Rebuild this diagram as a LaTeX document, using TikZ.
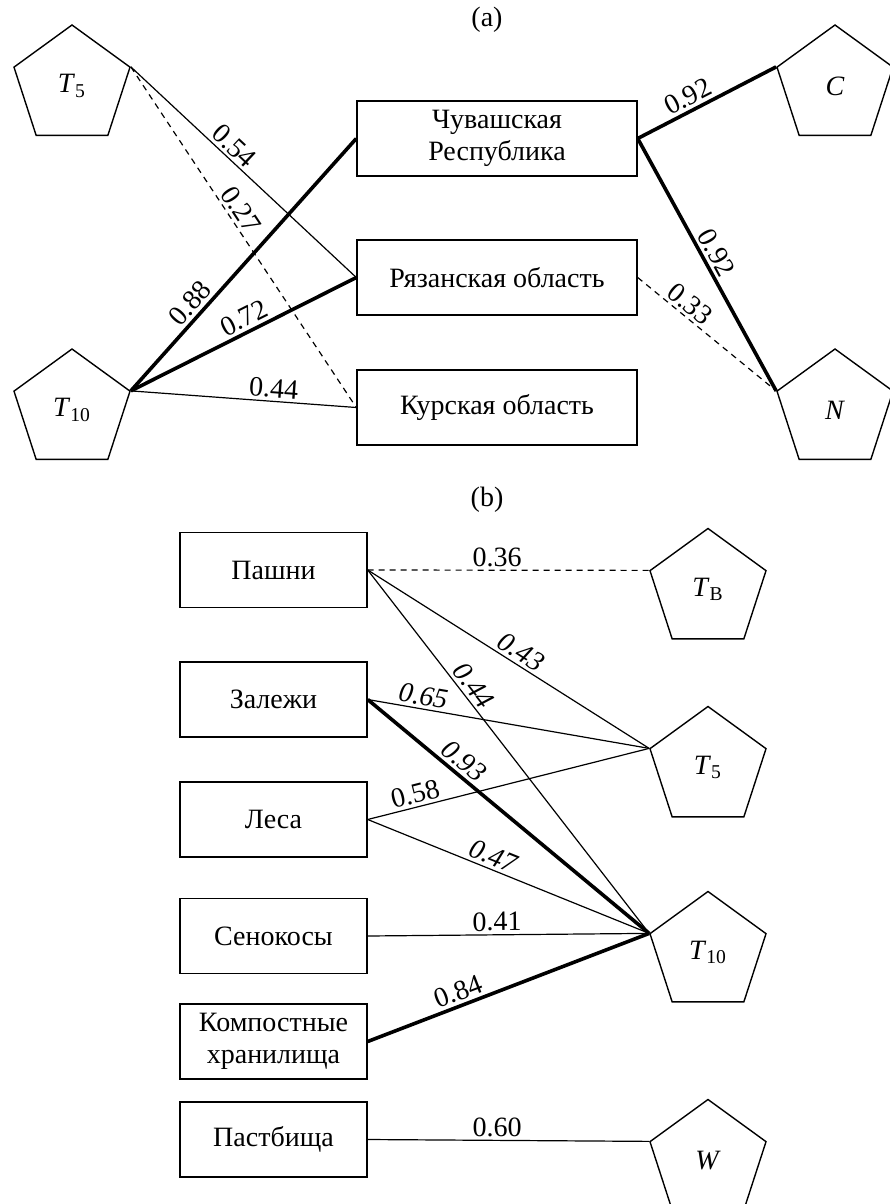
\documentclass[tikz,border=0pt]{standalone}
\usepackage{fontspec}
\setmainfont{Liberation Serif}
\usetikzlibrary{shapes.geometric}

\begin{document}
\begin{tikzpicture}[x=0.5pt, y=-0.5pt,
  every node/.style={font=\fontsize{14}{16}\selectfont},
  region/.style={draw, line width=0.7pt, minimum width=140pt, minimum height=37.5pt, align=center, inner sep=0pt},
  landuse/.style={draw, line width=0.7pt, minimum width=93.5pt, minimum height=37.5pt, align=center, inner sep=0pt},
  factor/.style={draw, line width=0.7pt, regular polygon, regular polygon sides=5, minimum size=61pt, inner sep=0pt},
  weak/.style={line width=0.6pt},
  strong/.style={line width=1.8pt},
  faint/.style={line width=0.6pt, dash pattern=on 3pt off 2.5pt},
  val/.style={sloped, above, inner sep=1.5pt, pos=#1},
  val/.default=0.5]
\useasboundingbox (0,0) rectangle (889,1204);

% (a) regions
\node at (487,20) {(a)};
\node[factor] (T5a) at (72,86) {\textit{T}\textsubscript{5}};
\node[factor] (T10a) at (72,410) {\textit{T}\textsubscript{10}};
\node[factor] (Ca) at (835,86) {\textit{C}};
\node[factor] (Na) at (835,410) {\textit{N}};
\node[region] (Chuv) at (497,138.5) {Чувашская\\Республика};
\node[region] (Ryaz) at (497,277.5) {Рязанская область};
\node[region] (Kursk) at (497,407.5) {Курская область};

\draw[weak] (T5a.corner 5) -- node[val=0.42] {0.54} (Ryaz.west);
\draw[faint] (T5a.corner 5) -- node[val=0.44] {0.27} (Kursk.west);
\draw[strong] (T10a.corner 5) -- node[val=0.31] {0.88} (Chuv.west);
\draw[strong] (T10a.corner 5) -- node[val=0.53] {0.72} (Ryaz.west);
\draw[weak] (T10a.corner 5) -- node[val=0.63] {0.44} (Kursk.west);
\draw[strong] (Chuv.east) -- node[val=0.41] {0.92} (Ca.corner 2);
\draw[strong] (Chuv.east) -- node[val=0.48] {0.92} (Na.corner 2);
\draw[faint] (Ryaz.east) -- node[val=0.32] {0.33} (Na.corner 2);

% (b) land use
\node at (487,500) {(b)};
\node[landuse] (Pashni) at (273.5,570) {Пашни};
\node[landuse] (Zalezhi) at (273.5,699.5) {Залежи};
\node[landuse] (Lesa) at (273.5,819.5) {Леса};
\node[landuse] (Senokos) at (273.5,936) {Сенокосы};
\node[landuse] (Kompost) at (273.5,1041.5) {Компостные\\хранилища};
\node[landuse] (Pastb) at (273.5,1139.5) {Пастбища};
\node[factor] (TBb) at (708,589.5) {\textit{T}\textsubscript{В}};
\node[factor] (T5b) at (708,767.5) {\textit{T}\textsubscript{5}};
\node[factor] (T10b) at (708,952.5) {\textit{T}\textsubscript{10}};
\node[factor] (Wb) at (708,1160.5) {\textit{W}};

\draw[faint] (Pashni.east) -- node[val=0.46] {0.36} (TBb.corner 2);
\draw[weak] (Pashni.east) -- node[val=0.52] {\itshape 0.43} (T5b.corner 2);
\draw[weak] (Pashni.east) -- node[val=0.34] {\itshape 0.44} (T10b.corner 2);
\draw[weak] (Zalezhi.east) -- node[val=0.19] {\itshape 0.65} (T5b.corner 2);
\draw[strong] (Zalezhi.east) -- node[val=0.31] {\itshape 0.93} (T10b.corner 2);
\draw[weak] (Lesa.east) -- node[val=0.18] {0.58} (T5b.corner 2);
\draw[weak] (Lesa.east) -- node[val=0.43] {\itshape 0.47} (T10b.corner 2);
\draw[weak] (Senokos.east) -- node[val=0.46] {0.41} (T10b.corner 2);
\draw[strong] (Kompost.east) -- node[val=0.34] {0.84} (T10b.corner 2);
\draw[weak] (Pastb.east) -- node[val=0.46] {0.60} (Wb.corner 2);
\end{tikzpicture}
\end{document}
